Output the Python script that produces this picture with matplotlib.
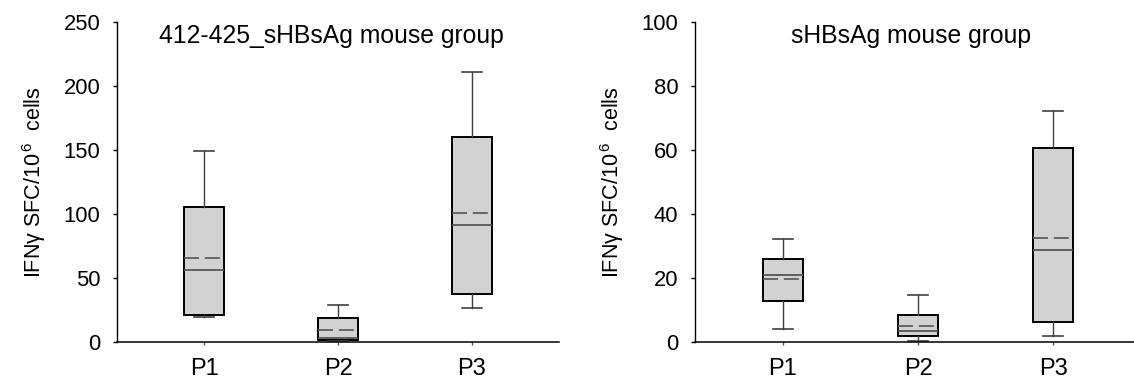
import matplotlib
matplotlib.use("Agg")
import matplotlib.pyplot as plt

plt.rcParams['font.family'] = ['Liberation Sans', 'DejaVu Sans']
plt.rcParams['mathtext.fontset'] = 'custom'
plt.rcParams['mathtext.rm'] = 'Liberation Sans'
plt.rcParams['mathtext.it'] = 'Liberation Sans:italic'
plt.rcParams['mathtext.bf'] = 'Liberation Sans:bold'

categories = ["P1", "P2", "P3"]

# Left panel: 412-425_sHBsAg mouse group
left_title = "412-425_sHBsAg mouse group"
left_whislo = [20, 1.2, 26.8]
left_q1 = [21.5, 2.0, 37.8]
left_med = [56, 3.0, 91.8]
left_mean = [65.6, 9.3, 101]
left_q3 = [105.8, 18.6, 160.3]
left_whishi = [149, 29.2, 210.7]
left_yticks = [0, 50, 100, 150, 200, 250]

# Right panel: sHBsAg mouse group
right_title = "sHBsAg mouse group"
right_whislo = [4.1, 0.5, 1.8]
right_q1 = [13.0, 2.0, 6.4]
right_med = [21.1, 3.5, 28.9]
right_mean = [19.8, 5.2, 32.6]
right_q3 = [26.1, 8.6, 60.7]
right_whishi = [32.1, 14.6, 72.0]
right_yticks = [0, 20, 40, 60, 80, 100]

ylabel = "IFNγ SFC/10$^{\\,6}$  cells"

W, H = 1134, 382
fig = plt.figure(figsize=(W / 100, H / 100), dpi=100)

y0_px, ytop_px = 342.2, 21.7


def make_axes(left_px, right_px):
    return fig.add_axes([left_px / W, (H - y0_px) / H,
                         (right_px - left_px) / W, (y0_px - ytop_px) / H])


def draw_panel(ax, title, whislo, q1, med, mean, q3, whishi, yticks):
    stats = []
    for i, lab in enumerate(categories):
        stats.append(dict(label=lab, whislo=whislo[i], q1=q1[i], med=med[i],
                          mean=mean[i], q3=q3[i], whishi=whishi[i], fliers=[]))
    ax.bxp(stats, positions=[1, 2, 3], widths=0.3, capwidths=0.15,
           showmeans=True, meanline=True, showfliers=False, patch_artist=True,
           boxprops=dict(facecolor='#d2d2d2', edgecolor='black', linewidth=1.4),
           medianprops=dict(color='#555555', linewidth=1.3),
           meanprops=dict(color='#555555', linewidth=1.2, linestyle=(0, (9, 3.5))),
           whiskerprops=dict(color='#404040', linewidth=1.0),
           capprops=dict(color='#404040', linewidth=1.2))
    ax.set_xlim(0.35, 3.65)
    ax.set_ylim(yticks[0], yticks[-1])
    ax.set_yticks(yticks)
    ax.set_xticks([1, 2, 3])
    ax.set_xticklabels(categories)
    for s in ['top', 'right']:
        ax.spines[s].set_visible(False)
    ax.spines['left'].set_linewidth(1.0)
    ax.spines['bottom'].set_linewidth(1.1)
    ax.tick_params(axis='y', direction='out', length=3, width=1.0, pad=9,
                   labelsize=15.8)
    ax.tick_params(axis='x', direction='out', length=2.5, width=1.0, pad=9,
                   labelsize=17, color='#555555')
    ax.set_ylabel(ylabel, fontsize=15.5, labelpad=11)
    ax.text(1.95, 0.955, title, transform=ax.get_xaxis_transform(),
            ha='center', va='center', fontsize=17.8)


axL = make_axes(117, 559)
draw_panel(axL, left_title, left_whislo, left_q1, left_med, left_mean,
           left_q3, left_whishi, left_yticks)

axR = make_axes(695, 695 + 446)
draw_panel(axR, right_title, right_whislo, right_q1, right_med, right_mean,
           right_q3, right_whishi, right_yticks)

fig.savefig("out.png", dpi=100)
